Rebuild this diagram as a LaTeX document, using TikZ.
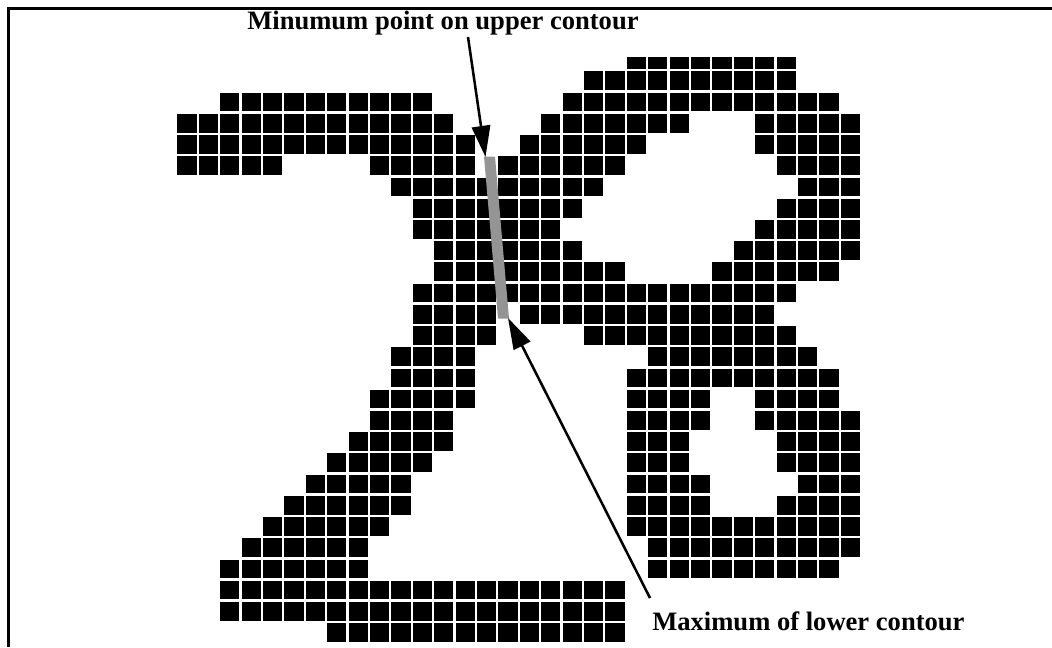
\documentclass[tikz,border=0pt]{standalone}
\usepackage{fontspec}
\setmainfont{Liberation Serif}
\usepackage{tikz}
\usetikzlibrary{arrows.meta,positioning}
\tikzset{
  cell/.style={fill=black},
  strip/.style={fill=black!42},
  frame/.style={line width=2.2pt},
  ptr/.style={-{Triangle[length=0.78cm,width=0.46cm]}, line width=1.8pt},
  lab/.style={font=\fontsize{18.9}{22}\selectfont\bfseries, inner sep=0pt},
}

\begin{document}
\begin{tikzpicture}[x=0.025cm, y=-0.025cm]
    \useasboundingbox (0,0) rectangle (1052,647);
    \draw[frame] (1052,8.5) -- (8.5,8.5) -- (8.5,647);
    % the pixel grid, one run of cells per entry: row/first/last
    \begin{scope}
      \clip (0,57.5) rectangle (1052,647);
      \foreach \r/\a/\b in {-2/21/28, -1/19/28,
          0/2/11, 0/18/30, 1/0/12, 1/17/23, 1/27/31,
          2/0/13, 2/16/21, 2/27/31, 3/0/4, 3/9/13, 3/15/20, 3/28/31,
          4/10/19, 4/29/31, 5/11/18, 5/28/31, 6/11/17, 6/27/31,
          7/12/18, 7/26/31, 8/12/20, 8/25/30, 9/11/28,
          10/11/14, 10/16/27, 11/11/14, 11/19/28,
          12/10/13, 12/22/29, 13/10/13, 13/21/30,
          14/9/13, 14/21/24, 14/27/30, 15/9/12, 15/21/24, 15/27/31,
          16/8/12, 16/21/23, 16/28/31, 17/7/11, 17/21/23, 17/28/31,
          18/6/10, 18/21/24, 18/29/31, 19/5/10, 19/21/24, 19/28/31,
          20/4/9, 20/21/31, 21/3/8, 21/22/31, 22/2/8, 22/22/30,
          23/2/20, 24/2/20, 25/7/20}
        \foreach \c in {\a,...,\b}
          \fill[cell] ({177.3+21.4*\c},{92.7+21.22*\r}) rectangle ++(19.3,18.7);
    \end{scope}
    % shaded cut between the two contours
    \fill[strip] (484,156.5) -- (495,156.5) -- (509,318.5) -- (498,318.5) -- cycle;
    \coordinate (minpt) at (485.5,157);
    \coordinate (maxpt) at (508,318);
    \node[lab, anchor=base west] (upperlab) at (247,29) {Minumum point on upper contour};
    \node[lab, anchor=base west] (lowerlab) at (652,630) {Maximum of lower contour};
    \coordinate (upstart) at (468,37);
    \coordinate (lowstart) at (650,598);
    \draw[ptr] (upstart) -- (minpt);
    \draw[ptr] (lowstart) -- (maxpt);
  \end{tikzpicture}
\end{document}
